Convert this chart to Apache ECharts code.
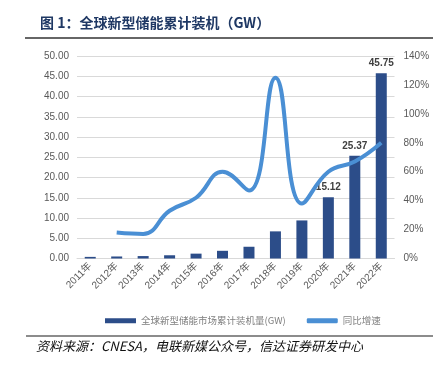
<!DOCTYPE html>
<html><head><meta charset="utf-8">
<script src="https://cdn.jsdelivr.net/npm/echarts@6/dist/echarts.min.js"></script>
<style>html,body{margin:0;padding:0;background:#fff}#c{width:441px;height:373px}</style>
</head><body><div id="c"></div>
<script>
var categories = ['2011年','2012年','2013年','2014年','2015年','2016年','2017年','2018年','2019年','2020年','2021年','2022年'];
var capacity = [0.4, 0.5, 0.6, 0.8, 1.2, 1.9, 2.9, 6.7, 9.4, 15.12, 25.37, 45.75];
var growth = [null, 18, 17, 33, 42, 60, 47, 125, 38, 60, 67, 80];
var labeledFrom = 9;
var leftTicks = {min: 0, max: 50, interval: 5};
var rightTicks = {min: 0, max: 140, interval: 20};

var font = '"Liberation Sans", "Noto Sans CJK SC", sans-serif';
var chart = echarts.init(document.getElementById('c'));
chart.setOption({
  animation: false,
  textStyle: {fontFamily: font},
  title: {
    text: '图 1：全球新型储能累计装机（GW）',
    left: 35, top: 11,
    textStyle: {fontSize: 14, fontWeight: 'bold', color: '#1F3864', fontFamily: '"Noto Sans CJK SC", "Liberation Sans", sans-serif'}
  },
  graphic: [
    {type: 'line', shape: {x1: 25, y1: 38, x2: 433, y2: 38}, style: {stroke: '#333', lineWidth: 1.5}},
    {type: 'line', shape: {x1: 26, y1: 336, x2: 433, y2: 336}, style: {stroke: '#666', lineWidth: 1.5}},
    {type: 'text', left: 36, top: 340, style: {text: '资料来源：CNESA，电联新媒公众号，信达证券研发中心', font: 'italic 13px "Noto Sans CJK SC", sans-serif', fill: '#111'}}
  ],
  legend: {
    left: 100, top: 311,
    itemWidth: 31, itemHeight: 5, itemGap: 21,
    textStyle: {fontSize: 9.5, color: '#7f7f7f', fontFamily: '"Noto Sans CJK SC", sans-serif'},
    data: [
      {name: '全球新型储能市场累计装机量(GW)', icon: 'rect'},
      {name: '同比增速', icon: 'roundRect'}
    ]
  },
  grid: {left: 77, right: 46.5, top: 56, bottom: 114.5},
  xAxis: {
    type: 'category', data: categories,
    axisLine: {lineStyle: {color: '#d9d9d9'}},
    axisTick: {show: false},
    axisLabel: {rotate: 45, fontSize: 10, color: '#595959', margin: 6, interval: 0}
  },
  yAxis: [
    {type: 'value', min: leftTicks.min, max: leftTicks.max, interval: leftTicks.interval,
     axisLabel: {fontSize: 10, color: '#595959', margin: 8, formatter: function(v){return v.toFixed(2);}},
     splitLine: {lineStyle: {color: '#d9d9d9'}}, axisLine: {show: false}, axisTick: {show: false}},
    {type: 'value', min: rightTicks.min, max: rightTicks.max, interval: rightTicks.interval,
     axisLabel: {fontSize: 10, color: '#595959', margin: 9, formatter: '{value}%'},
     splitLine: {show: false}, axisLine: {show: false}, axisTick: {show: false}}
  ],
  series: [
    {name: '全球新型储能市场累计装机量(GW)', type: 'bar', barWidth: 11, yAxisIndex: 0,
     itemStyle: {color: '#2C4D89'},
     data: capacity.map(function(v, i){
       return {value: v, label: {show: i >= labeledFrom, position: 'top', distance: 5,
         fontSize: 10, fontWeight: 'bold', color: '#404040', formatter: function(p){return p.value.toFixed(2);}}};
     }),
     z: 2},
    {name: '同比增速', type: 'line', yAxisIndex: 1, data: growth,
     smooth: 0.45, showSymbol: false, symbol: 'none', connectNulls: false,
     lineStyle: {color: '#4A8FD4', width: 4}, itemStyle: {color: '#4A8FD4'}, z: 3}
  ]
});
</script></body></html>
